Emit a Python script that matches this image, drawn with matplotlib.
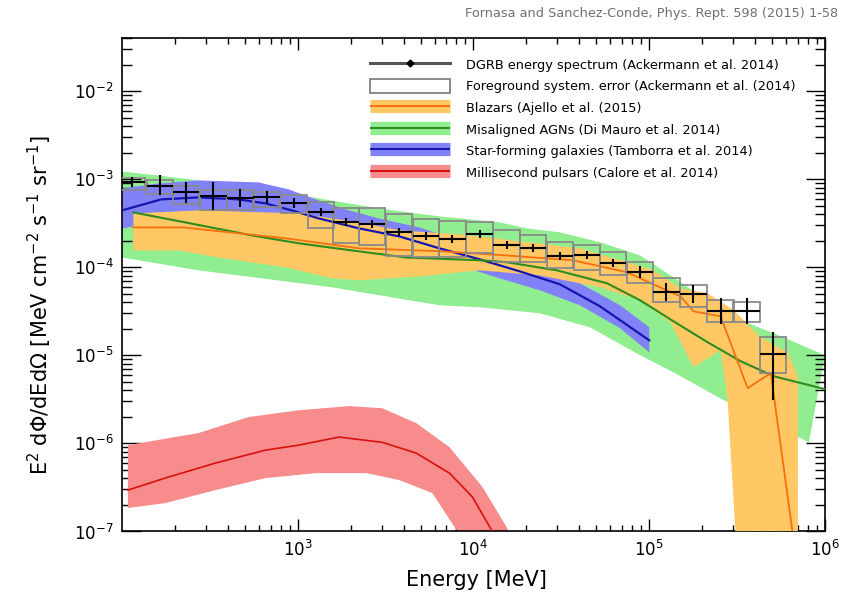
"""
DGRB energy spectrum compared with the contributions of unresolved source
classes (after Fornasa & Sanchez-Conde 2015, Phys. Rept. 598).
Values are read off the published figure.
"""

import numpy as np
import matplotlib.pyplot as plt
from matplotlib.lines import Line2D
from matplotlib.patches import Rectangle
from matplotlib.ticker import LogLocator, NullFormatter

# --- DGRB data points (Ackermann et al. 2014) --------------------------------
dgrb_energy = [114, 165, 232, 331, 472, 665, 949, 1353, 1881, 2648, 3777, 5387,
               7586, 10822, 15441, 21736, 31004, 44225, 62286, 88838, 125100,
               178400, 254500, 358400, 504700]
dgrb_flux = [9.18e-4, 8.27e-4, 7.07e-4, 6.37e-4, 6.04e-4, 6.20e-4, 5.30e-4,
             4.19e-4, 3.23e-4, 3.07e-4, 2.49e-4, 2.24e-4, 2.07e-4, 2.36e-4,
             1.77e-4, 1.64e-4, 1.33e-4, 1.36e-4, 1.11e-4, 8.75e-5, 5.19e-5,
             4.93e-5, 3.16e-5, 3.16e-5, 1.03e-5]
dgrb_err_lo = [8.05e-4, 6.54e-4, 5.32e-4, 4.42e-4, 4.77e-4, 5.30e-4, 4.65e-4,
               3.77e-4, 2.91e-4, 2.77e-4, 2.24e-4, 2.02e-4, 1.86e-4, 2.13e-4,
               1.59e-4, 1.48e-4, 1.20e-4, 1.23e-4, 1.00e-4, 7.48e-5, 4.10e-5,
               3.90e-5, 2.26e-5, 2.26e-5, 3.10e-6]
dgrb_err_hi = [1.05e-3, 1.10e-3, 9.40e-4, 9.17e-4, 7.64e-4, 7.25e-4, 6.04e-4,
               4.65e-4, 3.59e-4, 3.41e-4, 2.76e-4, 2.49e-4, 2.30e-4, 2.62e-4,
               1.96e-4, 1.82e-4, 1.48e-4, 1.51e-4, 1.23e-4, 1.02e-4, 6.57e-5,
               6.24e-5, 4.42e-5, 4.42e-5, 1.83e-5]
# foreground systematic error boxes
fg_lo = [7.44e-4, 6.71e-4, 5.17e-4, 4.42e-4, 4.42e-4, 4.78e-4, 4.08e-4,
         2.76e-4, 1.87e-4, 1.77e-4, 1.33e-4, 1.29e-4, 1.29e-4, 1.44e-4,
         1.14e-4, 1.14e-4, 9.72e-5, 9.22e-5, 8.09e-5, 6.57e-5, 4.00e-5,
         3.51e-5, 2.37e-5, 2.37e-5, 6.27e-6]
fg_hi = [1.02e-3, 9.67e-4, 8.27e-4, 7.44e-4, 7.44e-4, 7.07e-4, 6.53e-4,
         5.44e-4, 4.65e-4, 4.65e-4, 3.98e-4, 3.49e-4, 3.31e-4, 3.23e-4,
         2.62e-4, 2.30e-4, 1.92e-4, 1.77e-4, 1.48e-4, 1.14e-4, 7.48e-5,
         6.23e-5, 4.21e-5, 4.00e-5, 1.60e-5]
BIN_HALF_DEX = 0.075   # half width of an energy bin, in decades

# --- Blazars (Ajello et al. 2015) ---------------------------------------------
blz_up_e = [116, 272, 1013, 2231, 3777, 8318, 18320, 40350, 74880, 105400,
            150400, 214500, 302000, 430800, 614700, 701200, 701200]
blz_up_f = [4.08e-4, 4.42e-4, 4.08e-4, 3.23e-4, 2.62e-4, 2.36e-4, 1.97e-4,
            1.64e-4, 1.14e-4, 9.22e-5, 5.76e-5, 5.06e-5, 3.25e-5, 1.60e-5,
            1.08e-5, 5.64e-6, 1e-8]
blz_lo_e = [116, 209, 354, 854, 1564, 2231, 4913, 10822, 23836, 52480, 88830,
            131800, 178400, 254500, 279100, 331100]
blz_lo_f = [1.55e-4, 1.55e-4, 1.29e-4, 9.97e-5, 7.48e-5, 7.10e-5, 7.88e-5,
            9.22e-5, 8.09e-5, 5.92e-5, 4.21e-5, 2.37e-5, 7.33e-6, 1.14e-5,
            3.10e-6, 1e-8]
blz_e = [116, 223, 854, 2231, 6393, 15441, 36790, 74880, 105400, 150400,
         178400, 254500, 363100, 491300, 729300]
blz_f = [2.83e-4, 2.83e-4, 2.13e-4, 1.64e-4, 1.52e-4, 1.36e-4, 1.20e-4,
         8.75e-5, 6.40e-5, 4.68e-5, 3.16e-5, 2.77e-5, 4.24e-6, 6.27e-6, 2e-8]

# --- Misaligned AGNs (Di Mauro et al. 2014) -----------------------------------
mag_up_e = [100, 161, 272, 599, 1318, 2903, 6393, 14080, 20090, 31010, 52480,
            88830, 137100, 214500, 331100, 511100, 1.0e6]
mag_up_f = [1.22e-3, 1.10e-3, 9.67e-4, 7.84e-4, 6.04e-4, 4.65e-4, 3.78e-4,
            3.23e-4, 2.76e-4, 2.49e-4, 1.92e-4, 1.36e-4, 7.68e-5, 4.21e-5,
            2.50e-5, 1.78e-5, 1.00e-5]
mag_lo_e = [100, 272, 1564, 6393, 10822, 23836, 46020, 88830, 137100, 264800,
            810000]
mag_lo_f = [1.29e-4, 9.22e-5, 5.92e-5, 3.70e-5, 3.51e-5, 3.00e-5, 2.08e-5,
            1.00e-5, 6.43e-6, 3.10e-6, 1.03e-6]
mag_e = [116, 229, 546, 1013, 2035, 4141, 10822, 15441, 29810, 57540, 88830,
         137100, 214500, 331100, 511100, 1.0e6]
mag_f = [4.19e-4, 3.23e-4, 2.30e-4, 1.87e-4, 1.55e-4, 1.29e-4, 1.20e-4,
         1.14e-4, 9.22e-5, 6.57e-5, 4.21e-5, 2.44e-5, 1.41e-5, 8.57e-6,
         5.79e-6, 4.13e-6]

# --- Star-forming galaxies (Tamborra et al. 2014) -----------------------------
sfg_up_e = [100, 161, 272, 599, 889, 1318, 1956, 2903, 4913, 8318, 14080,
            23836, 40350, 68290, 100000]
sfg_up_f = [7.84e-4, 8.94e-4, 9.67e-4, 9.18e-4, 7.64e-4, 5.73e-4, 4.42e-4,
            3.58e-4, 2.83e-4, 2.02e-4, 1.48e-4, 1.08e-4, 6.57e-5, 3.70e-5,
            2.08e-5]
sfg_lo_e = [100, 161, 272, 599, 1013, 1715, 2903, 4913, 8318, 14080, 23836,
            40350, 68290, 100000]
sfg_lo_f = [2.76e-4, 3.23e-4, 3.78e-4, 3.78e-4, 3.23e-4, 2.49e-4, 1.87e-4,
            1.40e-4, 1.05e-4, 7.48e-5, 5.47e-5, 3.70e-5, 2.03e-5, 1.08e-5]
sfg_e = [100, 167, 272, 460, 656, 924, 1318, 2231, 3777, 6393, 10822, 18320,
         31010, 52480, 100000]
sfg_f = [4.42e-4, 5.89e-4, 6.20e-4, 5.89e-4, 5.30e-4, 4.42e-4, 3.58e-4,
         2.76e-4, 2.24e-4, 1.64e-4, 1.23e-4, 8.98e-5, 6.40e-5, 3.60e-5, 1.48e-5]

# --- Millisecond pulsars (Calore et al. 2014) ---------------------------------
msp_up_e = [108, 272, 525, 1013, 1956, 3020, 4724, 7295, 11256, 15441, 17000]
msp_up_f = [9.56e-7, 1.31e-6, 1.99e-6, 2.38e-6, 2.65e-6, 2.51e-6, 1.70e-6,
            9.08e-7, 3.19e-7, 1.12e-7, 7e-8]
msp_lo_e = [108, 176, 340, 656, 1268, 2446, 3777, 5831, 8103, 9500]
msp_lo_f = [1.85e-7, 2.10e-7, 2.95e-7, 4.04e-7, 4.60e-7, 4.60e-7, 3.84e-7,
            2.73e-7, 1.0e-7, 6e-8]
msp_e = [108, 176, 340, 656, 1013, 1715, 3020, 4724, 7295, 9869, 12843]
msp_f = [2.95e-7, 4.04e-7, 5.98e-7, 8.39e-7, 9.56e-7, 1.18e-6, 1.03e-6,
         7.76e-7, 4.60e-7, 2.46e-7, 9.9e-8]

# colours (band, central line)
C_BLZ = ("#ffc864", "#f5700f")
C_MAG = ("#90ee90", "#2e8b1e")
C_SFG = ("#8282f8", "#1515b0")
C_MSP = ("#f88c8c", "#d81010")


def band(ax, up_e, up_f, lo_e, lo_f, color, z):
    """Shaded band: upper edge left->right, lower edge back right->left."""
    xs = np.concatenate([up_e, lo_e[::-1]])
    ys = np.concatenate([up_f, lo_f[::-1]])
    ax.fill(xs, ys, color=color, lw=0, zorder=z)


fig = plt.figure(figsize=(8.42, 5.92), dpi=100)
ax = fig.add_axes([0.1449, 0.1022, 0.8349, 0.8336])
ax.set_xscale("log")
ax.set_yscale("log")

band(ax, mag_up_e, mag_up_f, mag_lo_e, mag_lo_f, C_MAG[0], 1)
band(ax, sfg_up_e, sfg_up_f, sfg_lo_e, sfg_lo_f, C_SFG[0], 2)
band(ax, blz_up_e, blz_up_f, blz_lo_e, blz_lo_f, C_BLZ[0], 3)
band(ax, msp_up_e, msp_up_f, msp_lo_e, msp_lo_f, C_MSP[0], 2)

ax.plot(sfg_e, sfg_f, color=C_SFG[1], lw=1.6, zorder=4)
ax.plot(mag_e, mag_f, color=C_MAG[1], lw=1.5, zorder=4)
ax.plot(blz_e, blz_f, color=C_BLZ[1], lw=1.3, zorder=4)
ax.plot(msp_e, msp_f, color=C_MSP[1], lw=1.2, zorder=4)

# foreground systematic boxes and DGRB crosses
e = np.array(dgrb_energy, dtype=float)
f = np.array(dgrb_flux)
e_lo = e * 10 ** (-BIN_HALF_DEX)
e_hi = e * 10 ** BIN_HALF_DEX
for x0, x1, y0, y1 in zip(e_lo, e_hi, fg_lo, fg_hi):
    ax.add_patch(Rectangle((x0, y0), x1 - x0, y1 - y0, fill=False,
                           ec="#8a8a8a", lw=1.3, zorder=5))
ax.errorbar(e, f, yerr=[f - np.array(dgrb_err_lo), np.array(dgrb_err_hi) - f],
            xerr=[e - e_lo, e_hi - e], fmt="none", ecolor="black",
            elinewidth=1.5, capsize=0, zorder=6)

ax.set_xlim(100, 1e6)
ax.set_ylim(1e-7, 4e-2)
ax.set_xticks([1e3, 1e4, 1e5, 1e6])
ax.xaxis.set_minor_locator(LogLocator(base=10, subs=np.arange(2, 10), numticks=20))
ax.xaxis.set_minor_formatter(NullFormatter())
ax.yaxis.set_major_locator(LogLocator(base=10, numticks=20))
ax.yaxis.set_minor_locator(LogLocator(base=10, subs=np.arange(2, 10), numticks=20))
ax.yaxis.set_minor_formatter(NullFormatter())

ax.tick_params(which="both", direction="in", top=True, right=True,
               labelsize=12, width=1)
ax.tick_params(axis="x", which="major", length=8.5, pad=6)
ax.tick_params(axis="x", which="minor", length=4.3)
ax.tick_params(axis="y", which="major", length=14, pad=6)
ax.tick_params(axis="y", which="minor", length=7)
for sp in ax.spines.values():
    sp.set_linewidth(1.2)

fig.text(40 / 842, 1 - 305 / 592,
         r"E$^2$ d$\Phi$/dEd$\Omega$ [MeV cm$^{-2}$ s$^{-1}$ sr$^{-1}$]",
         rotation=90, ha="center", va="center", fontsize=15)
fig.text(476 / 842, 1 - 580 / 592, "Energy [MeV]", ha="center", va="center",
         fontsize=15)
fig.text(838 / 842, 1 - 13 / 592,
         "Fornasa and Sanchez-Conde, Phys. Rept. 598 (2015) 1-58",
         ha="right", va="center", fontsize=9.3, color="#707070")

# legend
def band_handle(c):
    return (Line2D([], [], color=c[0], lw=9.5, solid_capstyle="butt"),
            Line2D([], [], color=c[1], lw=1.5, solid_capstyle="butt"))


handles = [
    Line2D([], [], color="#555555", lw=2.2, marker="D", ms=3.5, mfc="k", mec="k"),
    Rectangle((0, 0), 1, 1, facecolor="white", edgecolor="#777777", lw=1.2),
    band_handle(C_BLZ),
    band_handle(C_MAG),
    band_handle(C_SFG),
    band_handle(C_MSP),
]
labels = [
    "DGRB energy spectrum (Ackermann et al. 2014)",
    "Foreground system. error (Ackermann et al. (2014)",
    "Blazars (Ajello et al. (2015)",
    "Misaligned AGNs (Di Mauro et al. 2014)",
    "Star-forming galaxies (Tamborra et al. 2014)",
    "Millisecond pulsars (Calore et al. 2014)",
]
ax.legend(handles, labels, loc="upper left",
          bbox_to_anchor=(370 / 842, 1 - 57 / 592), bbox_transform=fig.transFigure,
          frameon=False, fontsize=9.25, handlelength=6.2, handleheight=1.4,
          handletextpad=1.3, labelspacing=0.53, borderpad=0, borderaxespad=0)

fig.savefig("out.png", dpi=100)
